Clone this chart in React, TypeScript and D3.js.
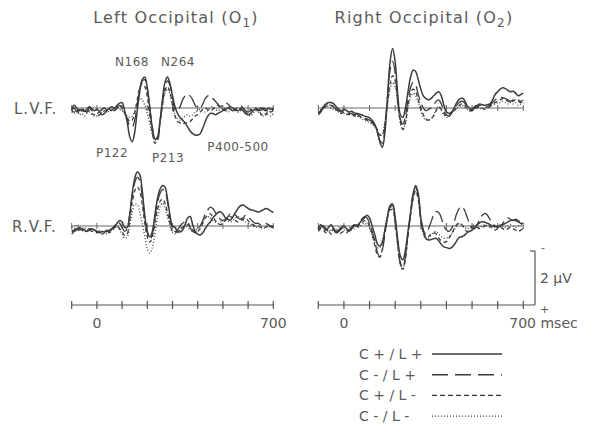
import React from "react";
import * as d3 from "d3";

// Time grid (msec) and amplitude values (µV, negative plotted upward)
const TIMES = d3.range(-100, 701, 10);
const TIME_TICKS = [-100, 0, 100, 200, 300, 400, 500, 600, 700];
const CONDITIONS = ["C + / L +", "C - / L +", "C + / L -", "C - / L -"];
const PEAK_LABELS = ["N168", "N264", "P122", "P213", "P400-500"];

// Left Occipital (O1), L.V.F.
const O1_LVF_CpLp = [0.05,-0.1,0.0,0.1,0.05,0.12,0.05,-0.05,0.02,0.1, 0.05,0.12,0.05,0.0,0.08,0.0,-0.05,0.02,-0.1,-0.18, -0.2,0.1,0.5,1.05,1.25,0.9,0.1,-0.6,-1.05,-1.15, -0.75,0.0,0.75,1.15,1.1,0.5,-0.3,-0.95,-1.15,-0.9, -0.45,-0.05,0.2,0.35,0.45,0.55,0.7,0.85,0.95,1.0, 1.0,0.95,0.75,0.5,0.3,0.2,0.2,0.25,0.2,0.15, 0.1,0.05,0.0,0.05,0.1,0.05,0.1,0.05,0.1,0.2, 0.25,0.2,0.1,0.05,0.1,0.0,0.05,0.1,0.0,0.05,0.0];
const O1_LVF_CmLp = [0.1,0.0,0.15,0.05,0.2,0.1,0.15,0.0,0.1,0.15, 0.2,0.15,0.25,0.2,0.1,0.15,0.05,0.1,0.0,-0.1, -0.05,0.15,0.4,0.65,0.7,0.45,-0.1,-0.7,-1.0,-1.05, -0.7,0.0,0.7,1.15,1.2,0.6,-0.2,-0.8,-1.0,-0.85, -0.4,0.05,0.1,-0.05,-0.3,-0.45,-0.5,-0.45,-0.3,-0.1, 0.0,0.0,-0.15,-0.35,-0.45,-0.45,-0.35,-0.25,-0.15,-0.05, -0.1,-0.2,-0.15,-0.05,0.0,0.05,-0.05,-0.1,0.0,0.1, 0.15,0.1,0.05,0.0,0.05,0.1,0.0,0.05,0.15,0.1,0.05];
const O1_LVF_CpLm = [0.1,0.15,0.05,0.2,0.1,0.05,0.15,0.1,0.2,0.25, 0.3,0.25,0.2,0.1,0.15,0.05,0.1,0.0,-0.05,-0.1, 0.0,0.2,0.35,0.5,0.45,0.2,-0.3,-0.75,-0.9,-0.8, -0.4,0.3,0.9,1.3,1.2,0.6,-0.1,-0.65,-0.8,-0.6, -0.1,0.3,0.5,0.55,0.6,0.55,0.55,0.5,0.4,0.3, 0.25,0.15,0.05,0.0,0.05,0.1,0.05,-0.05,-0.1,0.0, 0.05,0.1,0.0,-0.05,0.05,0.1,0.05,0.0,0.1,0.2, 0.15,0.05,0.1,0.0,0.1,0.2,0.3,0.25,0.1,0.15,0.1];
const O1_LVF_CmLm = [0.15,0.2,0.1,0.25,0.2,0.3,0.2,0.15,0.25,0.3, 0.3,0.25,0.15,0.2,0.1,0.15,0.05,0.1,0.0,0.05, 0.1,0.2,0.3,0.35,0.3,0.1,-0.2,-0.35,-0.3,-0.1, 0.2,0.6,1.0,1.2,1.05,0.5,-0.1,-0.55,-0.7,-0.5, -0.1,0.25,0.4,0.45,0.4,0.3,0.25,0.3,0.25,0.15, 0.1,0.05,0.1,0.15,0.1,0.0,-0.05,0.05,0.1,0.05, 0.0,0.05,0.15,0.1,0.0,0.05,0.15,0.1,0.05,0.15, 0.25,0.3,0.2,0.1,0.15,0.25,0.3,0.2,0.25,0.3,0.2];

// Right Occipital (O2), L.V.F.
const O2_LVF_CpLp = [0.2,0.1,-0.05,-0.15,-0.2,-0.2,-0.15,-0.05,0.05,0.1, 0.05,0.1,0.15,0.12,0.18,0.2,0.22,0.25,0.3,0.32, 0.37,0.45,0.6,0.85,1.25,1.45,0.9,-0.4,-1.7,-2.2, -1.7,-0.5,0.25,0.35,0.0,-0.6,-1.15,-1.4,-1.35,-1.05, -0.7,-0.45,-0.35,-0.3,-0.35,-0.45,-0.55,-0.6,-0.45,-0.1, 0.15,0.2,0.15,0.0,-0.2,-0.32,-0.37,-0.3,-0.1,0.0, 0.05,-0.05,-0.1,-0.15,-0.12,-0.1,-0.12,-0.15,-0.3,-0.5, -0.6,-0.7,-0.75,-0.72,-0.65,-0.6,-0.62,-0.55,-0.45,-0.5,-0.55];
const O2_LVF_CmLp = [0.25,0.15,0.0,-0.1,-0.15,-0.12,-0.05,0.05,0.1,0.15, 0.1,0.15,0.2,0.2,0.25,0.22,0.3,0.3,0.35,0.4, 0.45,0.5,0.65,0.9,1.2,1.3,0.7,-0.4,-1.4,-1.73, -1.3,-0.3,0.4,0.6,0.3,-0.3,-0.75,-0.95,-0.85,-0.5, -0.2,0.0,0.1,0.05,0.0,-0.1,-0.25,-0.3,-0.15,0.1, 0.25,0.3,0.2,0.05,-0.1,-0.2,-0.25,-0.2,-0.05,0.05, 0.1,0.0,-0.05,-0.1,-0.05,0.0,-0.05,-0.1,-0.2,-0.3, -0.35,-0.4,-0.38,-0.35,-0.3,-0.25,-0.3,-0.35,-0.3,-0.25,-0.3];
const O2_LVF_CpLm = [0.2,0.1,0.0,-0.05,-0.1,-0.1,0.0,0.05,0.15,0.2, 0.15,0.2,0.25,0.2,0.3,0.25,0.3,0.35,0.4,0.45, 0.5,0.55,0.65,0.8,1.0,1.0,0.55,-0.2,-0.9,-1.2, -1.0,-0.2,0.5,0.8,0.5,-0.1,-0.55,-0.7,-0.6,-0.3, 0.0,0.25,0.4,0.45,0.4,0.3,0.1,-0.05,0.05,0.2, 0.3,0.3,0.2,0.1,0.0,-0.1,-0.15,-0.1,0.0,0.1, 0.1,0.05,0.0,-0.05,0.0,0.05,0.0,-0.05,-0.15,-0.2, -0.25,-0.3,-0.35,-0.3,-0.25,-0.2,-0.25,-0.3,-0.25,-0.2,-0.25];
const O2_LVF_CmLm = [0.15,0.05,-0.05,-0.1,-0.05,0.0,0.05,0.1,0.15,0.2, 0.2,0.25,0.2,0.25,0.3,0.3,0.35,0.4,0.45,0.5, 0.55,0.6,0.7,0.85,1.0,0.95,0.5,-0.1,-0.7,-0.95, -0.8,-0.1,0.55,0.8,0.6,0.0,-0.4,-0.55,-0.45,-0.2, 0.1,0.35,0.45,0.45,0.4,0.25,0.05,-0.05,0.1,0.25, 0.35,0.3,0.15,0.05,0.0,-0.05,-0.1,-0.05,0.05,0.1, 0.05,0.0,-0.05,0.0,0.05,0.0,-0.05,-0.1,-0.1,-0.15, -0.2,-0.2,-0.25,-0.2,-0.15,-0.2,-0.15,-0.2,-0.1,-0.15,-0.2];

// Left Occipital (O1), R.V.F.
const O1_RVF_CpLp = [0.2,0.15,0.1,0.15,0.1,0.15,0.2,0.15,0.1,0.15, 0.2,0.25,0.2,0.22,0.2,0.15,0.1,0.05,-0.1,-0.2, -0.15,0.05,0.05,-0.4,-1.2,-1.75,-2.0,-1.9,-1.3,-0.4, 0.2,0.4,0.2,-0.4,-1.0,-1.35,-1.5,-1.45,-1.0,-0.4, 0.0,0.05,0.2,0.22,0.15,-0.05,-0.3,-0.35,-0.05,0.2, 0.3,0.33,0.25,0.1,-0.05,-0.15,-0.3,-0.4,-0.5,-0.53, -0.45,-0.3,-0.25,-0.22,-0.35,-0.5,-0.65,-0.75,-0.78,-0.72, -0.65,-0.6,-0.58,-0.55,-0.52,-0.55,-0.6,-0.65,-0.62,-0.55,-0.5];
const O1_RVF_CmLp = [0.3,0.2,0.15,0.1,0.15,0.2,0.15,0.1,0.12,0.15, 0.2,0.22,0.25,0.2,0.15,0.2,0.1,0.0,-0.15,-0.1, 0.05,0.2,0.1,-0.4,-1.1,-1.6,-1.8,-1.7,-1.1,-0.3, 0.25,0.5,0.3,-0.3,-0.85,-1.2,-1.35,-1.3,-0.9,-0.3, 0.1,0.2,0.15,0.0,-0.1,-0.15,-0.15,0.05,0.2,0.25, 0.15,0.0,-0.2,-0.45,-0.6,-0.7,-0.65,-0.5,-0.35,-0.25, -0.2,-0.25,-0.35,-0.45,-0.45,-0.4,-0.3,-0.25,-0.3,-0.4, -0.35,-0.25,-0.15,-0.1,-0.1,-0.05,-0.1,-0.1,-0.05,0.0,0.0];
const O1_RVF_CpLm = [0.15,0.2,0.1,0.05,0.1,0.15,0.2,0.15,0.2,0.2, 0.25,0.2,0.3,0.25,0.2,0.25,0.15,0.05,0.0,0.1, 0.2,0.35,0.3,-0.2,-0.85,-1.3,-1.45,-1.3,-0.8,-0.1, 0.4,0.6,0.4,-0.1,-0.6,-0.9,-1.0,-0.85,-0.5,-0.1, 0.2,0.25,0.2,0.1,0.05,0.0,-0.05,0.05,0.15,0.2, 0.2,0.1,-0.1,-0.3,-0.4,-0.45,-0.35,-0.2,-0.1,-0.05, -0.1,-0.2,-0.3,-0.35,-0.3,-0.2,-0.15,-0.2,-0.25,-0.3, -0.2,-0.1,-0.05,0.0,0.0,0.05,0.0,0.05,0.0,0.05,0.05];
const O1_RVF_CmLm = [0.05,0.1,-0.05,0.0,0.1,0.05,0.15,0.1,0.2,0.15, 0.2,0.15,0.25,0.2,0.3,0.2,0.15,0.1,0.0,0.15, 0.3,0.45,0.4,0.0,-0.5,-0.8,-0.78,-0.5,-0.1,0.4, 0.85,1.0,0.8,0.3,-0.3,-0.7,-0.85,-0.7,-0.35,0.0, 0.25,0.3,0.25,0.15,0.05,0.0,0.05,0.15,0.2,0.15, 0.1,0.0,-0.15,-0.3,-0.35,-0.3,-0.2,-0.15,-0.1,-0.15, -0.2,-0.25,-0.2,-0.15,-0.2,-0.3,-0.35,-0.3,-0.2,-0.15, -0.1,-0.05,0.0,0.05,0.0,0.05,0.1,0.05,0.0,0.05,0.0];

// Right Occipital (O2), R.V.F.
const O2_RVF_CpLp = [0.1,-0.05,0.05,0.15,0.05,-0.05,0.1,0.2,0.15,0.05, 0.0,0.1,0.15,0.05,-0.05,0.0,-0.1,-0.2,-0.3,-0.4, -0.3,0.0,0.3,0.65,0.75,0.6,0.15,-0.35,-0.75,-0.82, -0.3,0.5,1.1,1.25,0.9,0.2,-0.5,-1.2,-1.5,-1.2, -0.3,0.2,0.45,0.52,0.5,0.47,0.46,0.55,0.68,0.77, 0.8,0.83,0.8,0.7,0.55,0.42,0.4,0.35,0.25,0.2, 0.15,0.05,-0.05,-0.12,-0.16,-0.14,-0.1,-0.05,0.0,0.02, 0.02,0.0,-0.05,-0.1,-0.15,-0.2,-0.22,-0.2,-0.15,-0.1,-0.1];
const O2_RVF_CmLp = [0.15,0.05,0.0,0.1,0.2,0.1,0.15,0.25,0.2,0.1, 0.05,0.15,0.2,0.1,0.0,-0.05,-0.15,-0.25,-0.35,-0.3, -0.1,0.2,0.55,0.95,1.15,0.9,0.3,-0.3,-0.7,-0.75, -0.25,0.6,1.35,1.55,1.1,0.3,-0.45,-1.15,-1.45,-1.15, -0.3,0.15,0.3,0.1,-0.15,-0.4,-0.53,-0.5,-0.3,0.0, 0.15,0.2,0.1,-0.15,-0.45,-0.65,-0.72,-0.6,-0.35,-0.1, 0.05,0.1,-0.05,-0.25,-0.4,-0.47,-0.4,-0.25,-0.1,0.0, 0.05,0.0,-0.1,-0.25,-0.3,-0.25,-0.2,-0.25,-0.2,-0.15,-0.1];
const O2_RVF_CpLm = [0.2,0.1,0.15,0.25,0.2,0.3,0.25,0.2,0.3,0.25, 0.2,0.25,0.15,0.1,0.0,0.05,-0.05,-0.1,-0.2,-0.15, 0.0,0.3,0.7,1.05,1.15,0.85,0.2,-0.3,-0.6,-0.6, -0.1,0.7,1.4,1.6,1.2,0.35,-0.4,-1.0,-1.3,-1.0, -0.2,0.25,0.45,0.4,0.3,0.25,0.3,0.45,0.55,0.6, 0.58,0.45,0.3,0.1,-0.05,-0.1,-0.05,0.1,0.2,0.15, 0.05,0.0,0.05,0.1,0.05,0.0,-0.05,0.0,0.1,0.15, 0.1,0.05,0.1,0.15,0.1,0.05,0.1,0.15,0.2,0.15,0.1];
const O2_RVF_CmLm = [0.0,0.1,0.05,0.15,0.1,0.2,0.1,0.15,0.05,0.1, 0.15,0.1,0.05,0.15,0.1,0.0,0.05,-0.05,-0.1,-0.05, 0.1,0.35,0.6,0.8,0.8,0.55,0.1,-0.4,-0.7,-0.65, -0.1,0.75,1.45,1.62,1.2,0.3,-0.45,-1.05,-1.35,-1.05, -0.2,0.3,0.5,0.45,0.35,0.25,0.2,0.3,0.4,0.45, 0.45,0.4,0.3,0.15,0.0,-0.1,-0.05,0.05,0.1,0.05, 0.0,-0.05,0.0,0.05,0.0,-0.05,0.0,0.05,0.0,0.05, 0.0,-0.05,0.0,0.05,0.0,-0.05,0.0,0.05,0.0,-0.05,0.0];

const DASHES = [null, "14,5", "4,3", "1,2"];
const INK = "#3c3c3c";
const TEXT = "#5a5a5a";
const FONT = "'DejaVu Sans', sans-serif";
const PX_PER_UV = 27;

type Panel = { x0: number; x1: number; base: number; series: number[][] };

const PANELS: Panel[] = [
  { x0: 71.7, x1: 273.3, base: 108, series: [O1_LVF_CpLp, O1_LVF_CmLp, O1_LVF_CpLm, O1_LVF_CmLm] },
  { x0: 318.3, x1: 523.3, base: 108, series: [O2_LVF_CpLp, O2_LVF_CmLp, O2_LVF_CpLm, O2_LVF_CmLm] },
  { x0: 71.7, x1: 273.3, base: 226, series: [O1_RVF_CpLp, O1_RVF_CmLp, O1_RVF_CpLm, O1_RVF_CmLm] },
  { x0: 318.3, x1: 523.3, base: 226, series: [O2_RVF_CpLp, O2_RVF_CmLp, O2_RVF_CpLm, O2_RVF_CmLm] },
];

function PanelView({ p }: { p: Panel }) {
  const x = d3.scaleLinear().domain([-100, 700]).range([p.x0, p.x1]);
  const y = d3.scaleLinear().domain([-2, 2]).range([p.base - 2 * PX_PER_UV, p.base + 2 * PX_PER_UV]);
  const line = d3
    .line<number>()
    .x((_, i) => x(TIMES[i]))
    .y((v) => y(v))
    .curve(d3.curveCatmullRom.alpha(0.5));
  return (
    <g>
      <line x1={x(-100)} x2={x(700)} y1={y(0)} y2={y(0)} stroke="#666" strokeWidth={1} />
      {TIME_TICKS.map((t) => (
        <line key={t} x1={x(t)} x2={x(t)} y1={y(0) - 3} y2={y(0) + 3} stroke="#666" strokeWidth={1} />
      ))}
      {p.series.map((s, i) => (
        <path
          key={i}
          d={line(s) || ""}
          fill="none"
          stroke={INK}
          strokeWidth={i === 0 ? 1.5 : 1.3}
          strokeDasharray={DASHES[i] || undefined}
          strokeLinejoin="round"
        />
      ))}
    </g>
  );
}

function TimeAxis({ x0, x1, y, extendTo, labels }: { x0: number; x1: number; y: number; extendTo?: number; labels: React.ReactNode }) {
  const x = d3.scaleLinear().domain([-100, 700]).range([x0, x1]);
  return (
    <g>
      <line x1={x(-100)} x2={extendTo ?? x(700)} y1={y} y2={y} stroke="#555" strokeWidth={1.2} />
      {TIME_TICKS.map((t) => (
        <line key={t} x1={x(t)} x2={x(t)} y1={y - 4} y2={y + 4} stroke="#555" strokeWidth={1.2} />
      ))}
      {labels}
    </g>
  );
}

export default function App() {
  const xl = d3.scaleLinear().domain([-100, 700]).range([71.7, 273.3]);
  const xr = d3.scaleLinear().domain([-100, 700]).range([318.3, 523.3]);
  const axisY = 305;
  const barTop = axisY - 2 * PX_PER_UV;
  return (
    <svg width={593} height={426} style={{ position: "absolute", left: 0, top: 0, background: "#fff" }} fontFamily={FONT}>
      <rect width={593} height={426} fill="#fff" />
      {/* titles */}
      <text x={176} y={23} textAnchor="middle" fontSize={16} fill={TEXT} letterSpacing={1.2}>
        Left Occipital (O<tspan fontSize={12} dy={4}>1</tspan><tspan dy={-4}>)</tspan>
      </text>
      <text x={424} y={23} textAnchor="middle" fontSize={16} fill={TEXT} letterSpacing={1.2}>
        Right Occipital (O<tspan fontSize={12} dy={4}>2</tspan><tspan dy={-4}>)</tspan>
      </text>

      {/* row labels */}
      <text x={14} y={114} fontSize={15} fill={TEXT} letterSpacing={1}>L.V.F.</text>
      <text x={12} y={232} fontSize={15} fill={TEXT} letterSpacing={1}>R.V.F.</text>

      {PANELS.map((p, i) => (
        <PanelView key={i} p={p} />
      ))}

      {/* peak labels */}
      <text x={132} y={66} textAnchor="middle" fontSize={12} fill={TEXT} letterSpacing={0.5}>{PEAK_LABELS[0]}</text>
      <text x={178} y={66} textAnchor="middle" fontSize={12} fill={TEXT} letterSpacing={0.5}>{PEAK_LABELS[1]}</text>
      <text x={112} y={157} textAnchor="middle" fontSize={12} fill={TEXT} letterSpacing={0.5}>{PEAK_LABELS[2]}</text>
      <text x={168} y={162} textAnchor="middle" fontSize={12} fill={TEXT} letterSpacing={0.5}>{PEAK_LABELS[3]}</text>
      <text x={238} y={151} textAnchor="middle" fontSize={12} fill={TEXT} letterSpacing={0.5}>{PEAK_LABELS[4]}</text>

      {/* time axes */}
      <TimeAxis
        x0={71.7}
        x1={273.3}
        y={axisY}
        labels={
          <g fontSize={14} fill={TEXT}>
            <text x={xl(0)} y={328} textAnchor="middle">0</text>
            <text x={xl(700)} y={328} textAnchor="middle">700</text>
          </g>
        }
      />
      <TimeAxis
        x0={318.3}
        x1={523.3}
        y={axisY}
        extendTo={535}
        labels={
          <g fontSize={14} fill={TEXT}>
            <text x={xr(0)} y={328} textAnchor="middle">0</text>
            <text x={xr(700) - 14} y={328}>700 msec</text>
          </g>
        }
      />

      {/* calibration bar */}
      <line x1={535} x2={535} y1={barTop} y2={axisY} stroke="#555" strokeWidth={1.2} />
      <line x1={530} x2={535} y1={barTop} y2={barTop} stroke="#555" strokeWidth={1.2} />
      <text x={541} y={251} fontSize={11} fill={TEXT}>-</text>
      <text x={540} y={313} fontSize={11} fill={TEXT}>+</text>
      <text x={540} y={283} fontSize={14} fill={TEXT}>2 µV</text>

      {/* legend */}
      {CONDITIONS.map((c, i) => {
        const ly = 354 + i * 20.7;
        return (
          <g key={c}>
            <text x={359} y={ly + 5} fontSize={14} fill={TEXT}>{c}</text>
            <line x1={432} x2={502} y1={ly} y2={ly} stroke={INK} strokeWidth={i === 3 ? 1.2 : 1.4} strokeDasharray={DASHES[i] ? (i === 1 ? "16,7" : i === 2 ? "5,3" : "1,2") : undefined} />
          </g>
        );
      })}
    </svg>
  );
}
